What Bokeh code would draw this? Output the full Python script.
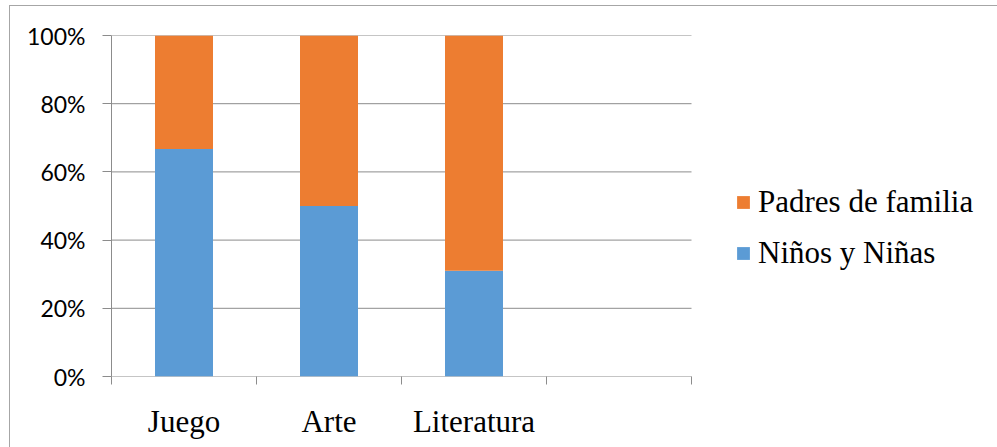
from bokeh.plotting import figure
from bokeh.models import (Range1d, FixedTicker, NumeralTickFormatter, Legend,
                          LegendItem, ColumnDataSource)
from bokeh.embed import file_html
from bokeh.resources import INLINE

categories = ["Juego", "Arte", "Literatura", ""]
ninos = [0.667, 0.50, 0.31, 0.0]
padres = [0.333, 0.50, 0.69, 0.0]
series = ["Niños y Niñas", "Padres de familia"]
colors = ["#5B9BD5", "#ED7D31"]
y_ticks = [0, 0.2, 0.4, 0.6, 0.8, 1.0]

n = len(categories)
xs = [i + 0.5 for i in range(n)]
source = ColumnDataSource(dict(x=xs, ninos=ninos, padres=padres))

GRID = "#8c8c8c"

# plot frame spans 111..997 px; category area 111..691 px
x_end = n * (997 - 111) / (691 - 111)

p = figure(width=988, height=442, x_range=Range1d(0, x_end),
           y_range=Range1d(0, 1), output_backend="svg", toolbar_location=None,
           min_border_left=102, min_border_right=0, min_border_top=30,
           min_border_bottom=71)
p.margin = (5, 0, 0, 9)
p.outline_line_color = None
p.border_fill_color = None
p.styles = {"box-shadow": "inset 1px 1px 0 0 #a6a6a6"}

# horizontal gridlines limited to the category area
p.segment(x0=[0] * len(y_ticks), x1=[n] * len(y_ticks), y0=y_ticks, y1=y_ticks,
          line_color=GRID, line_width=1)

rs = p.vbar_stack(["ninos", "padres"], x="x", width=0.4, color=colors,
                  source=source, line_width=0)

# y axis
p.yaxis.ticker = FixedTicker(ticks=y_ticks)
p.yaxis.formatter = NumeralTickFormatter(format="0%")
p.yaxis.major_label_text_font = "Lato"
p.yaxis.major_label_text_font_size = "23px"
p.yaxis.major_label_text_color = "black"
p.yaxis.major_tick_out = 9
p.yaxis.major_tick_in = 0
p.yaxis.minor_tick_out = 0
p.yaxis.minor_tick_in = 0
p.yaxis.axis_line_color = GRID
p.yaxis.major_tick_line_color = GRID
p.yaxis.major_label_standoff = 17

# x axis
p.xaxis.ticker = FixedTicker(ticks=xs, minor_ticks=list(range(n + 1)))
p.xaxis.major_label_overrides = {x: c for x, c in zip(xs, categories)}
p.xaxis.major_label_text_font = "Liberation Serif"
p.xaxis.major_label_text_font_size = "31px"
p.xaxis.major_label_text_color = "black"
p.xaxis.major_tick_out = 0
p.xaxis.major_tick_in = 0
p.xaxis.minor_tick_out = 8
p.xaxis.minor_tick_in = 0
p.xaxis.minor_tick_line_color = GRID
p.xaxis.axis_line_color = None
p.xaxis.major_label_standoff = 19

p.xgrid.visible = False
p.ygrid.visible = False

legend = Legend(items=[LegendItem(label=series[1], renderers=[rs[1]]),
                       LegendItem(label=series[0], renderers=[rs[0]])],
                location=(624, 105), orientation="vertical",
                label_text_font="Liberation Serif", label_text_font_size="31px",
                label_text_color="black",
                glyph_width=16, glyph_height=16, label_standoff=7, spacing=15,
                padding=0, margin=0, border_line_color=None,
                background_fill_alpha=0)
p.add_layout(legend)

open("out.html", "w").write(file_html(p, INLINE))
